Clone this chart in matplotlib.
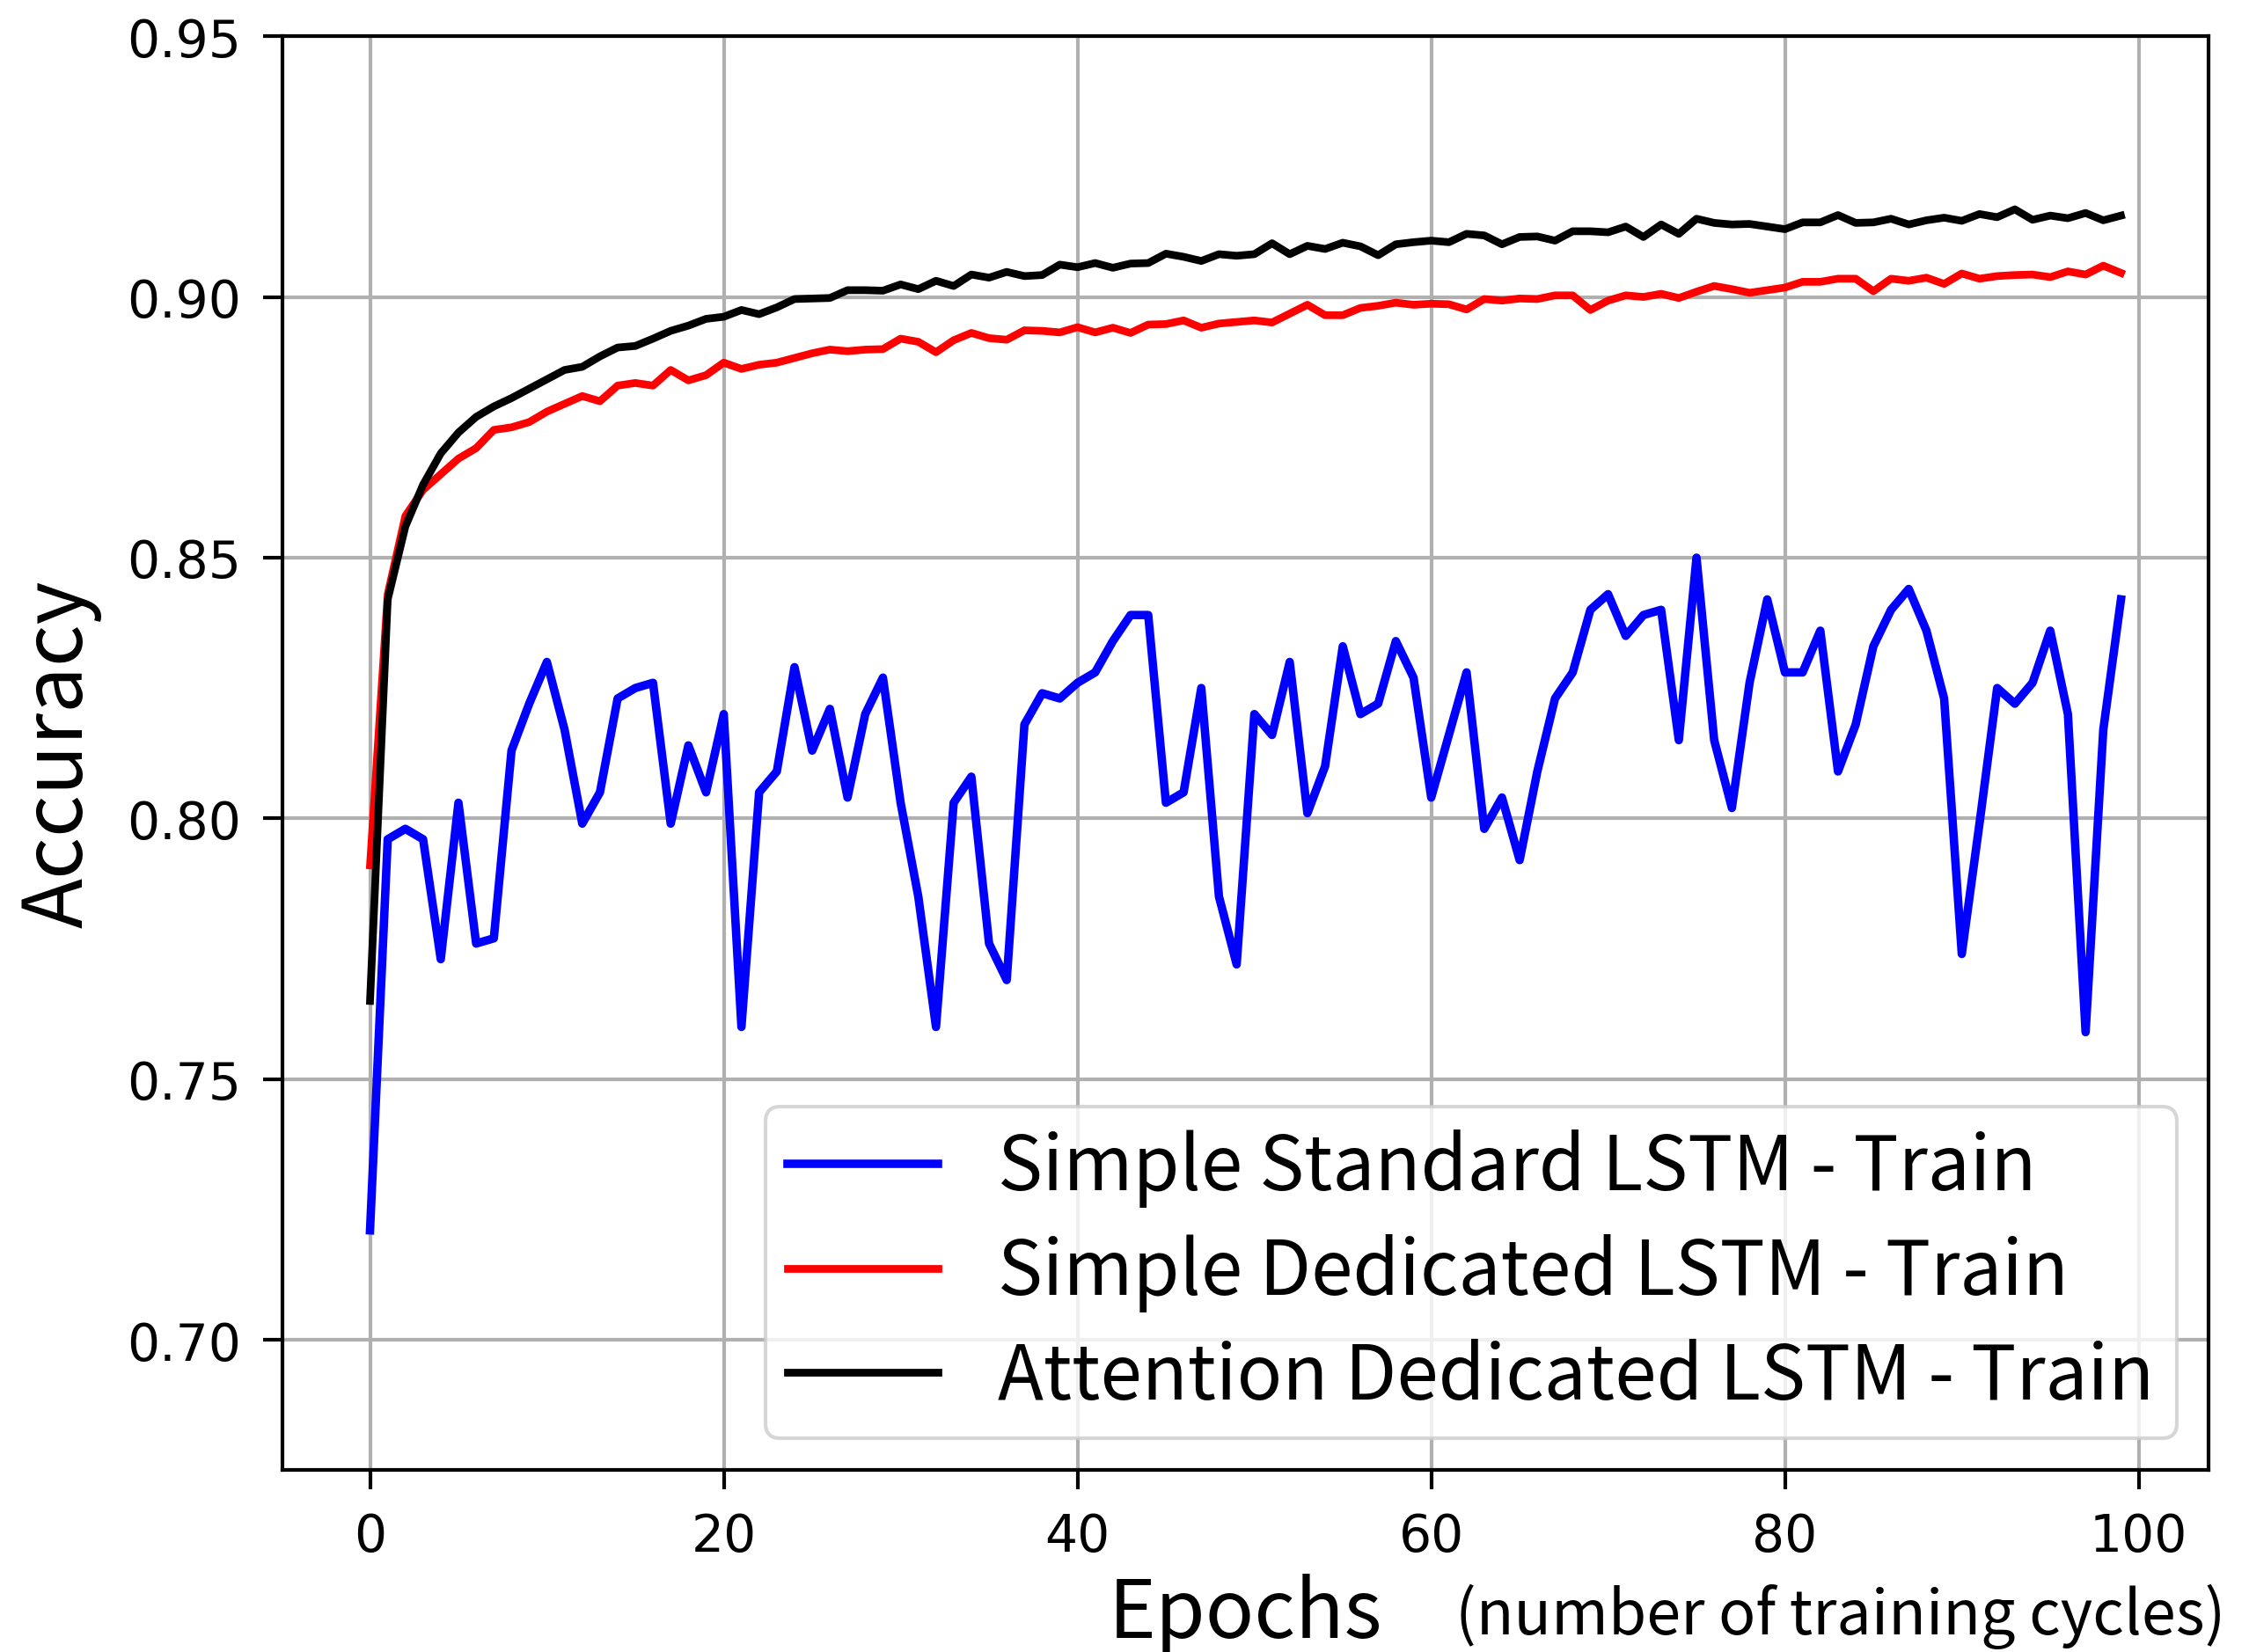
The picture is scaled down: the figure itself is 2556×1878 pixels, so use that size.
import numpy as np
import matplotlib.pyplot as plt

# accuracy per epoch
epochs = np.arange(100)

standard_lstm = [
    0.721, 0.796, 0.798, 0.796, 0.773, 0.803, 0.776, 0.777, 0.813, 0.822,
    0.830, 0.817, 0.799, 0.805, 0.823, 0.825, 0.826, 0.799, 0.814, 0.805,
    0.820, 0.760, 0.805, 0.809, 0.829, 0.813, 0.821, 0.804, 0.820, 0.827,
    0.803, 0.785, 0.760, 0.803, 0.808, 0.776, 0.769, 0.818, 0.824, 0.823,
    0.826, 0.828, 0.834, 0.839, 0.839, 0.803, 0.805, 0.825, 0.785, 0.772,
    0.820, 0.816, 0.830, 0.801, 0.810, 0.833, 0.820, 0.822, 0.834, 0.827,
    0.804, 0.816, 0.828, 0.798, 0.804, 0.792, 0.809, 0.823, 0.828, 0.840,
    0.843, 0.835, 0.839, 0.840, 0.815, 0.850, 0.815, 0.802, 0.826, 0.842,
    0.828, 0.828, 0.836, 0.809, 0.818, 0.833, 0.840, 0.844, 0.836, 0.823,
    0.774, 0.799, 0.825, 0.822, 0.826, 0.836, 0.820, 0.759, 0.817, 0.842,
]

dedicated_lstm = [
    0.791, 0.843, 0.858, 0.863, 0.866, 0.869, 0.871, 0.8745, 0.875, 0.876,
    0.878, 0.8795, 0.881, 0.880, 0.883, 0.8835, 0.883, 0.886, 0.884, 0.885,
    0.8874, 0.8862, 0.8870, 0.8874, 0.8883, 0.8892, 0.8899, 0.8896, 0.8899, 0.8900,
    0.8920, 0.8914, 0.8894, 0.8917, 0.8931, 0.8921, 0.8918, 0.8936, 0.8935, 0.8932,
    0.8942, 0.8932, 0.8941, 0.8931, 0.8947, 0.8948, 0.8955, 0.8941, 0.8949, 0.8952,
    0.8955, 0.8951, 0.8968, 0.8985, 0.8965, 0.8965, 0.8979, 0.8983, 0.8989, 0.8985,
    0.8987, 0.8986, 0.8976, 0.8996, 0.8993, 0.8997, 0.8996, 0.9003, 0.9003, 0.8975,
    0.8993, 0.9003, 0.9000, 0.9006, 0.8998, 0.9010, 0.9021, 0.9015, 0.9008, 0.9013,
    0.9018, 0.9029, 0.9029, 0.9035, 0.9035, 0.9011, 0.9035, 0.9031, 0.9037, 0.9025,
    0.9045, 0.9035, 0.9040, 0.9042, 0.9043, 0.9038, 0.9049, 0.9043, 0.9060, 0.9046,
]

attention_lstm = [
    0.765, 0.842, 0.856, 0.864, 0.870, 0.874, 0.877, 0.879, 0.8806, 0.8824,
    0.8842, 0.8860, 0.8866, 0.8886, 0.8903, 0.8906, 0.8920, 0.8935, 0.8945, 0.8958,
    0.8962, 0.8975, 0.8967, 0.8980, 0.8996, 0.8997, 0.8998, 0.9013, 0.9013, 0.9012,
    0.9024, 0.9015, 0.9031, 0.9021, 0.9043, 0.9037, 0.9048, 0.9040, 0.9042, 0.9062,
    0.9057, 0.9065, 0.9056, 0.9064, 0.9065, 0.9083, 0.9077, 0.9069, 0.9082, 0.9079,
    0.9082, 0.9103, 0.9082, 0.9098, 0.9092, 0.9104, 0.9097, 0.9080, 0.9101, 0.9105,
    0.9108, 0.9105, 0.9121, 0.9118, 0.9101, 0.9115, 0.9116, 0.9108, 0.9126, 0.9126,
    0.9124, 0.9135, 0.9115, 0.9139, 0.9121, 0.9150, 0.9142, 0.9139, 0.9140, 0.9135,
    0.9130, 0.9143, 0.9143, 0.9157, 0.9142, 0.9143, 0.9150, 0.9139, 0.9147, 0.9152,
    0.9146, 0.9159, 0.9153, 0.9168, 0.9148, 0.9156, 0.9151, 0.9161, 0.9147, 0.9156,
]

labels = ['Simple Standard LSTM - Train',
          'Simple Dedicated LSTM - Train',
          'Attention Dedicated LSTM - Train']

label_font = ['Noto Sans CJK JP', 'DejaVu Sans']

fig = plt.figure(figsize=(8.52, 6.263), dpi=300)
ax = fig.add_axes([0.1256, 0.110, 0.8564, 0.8676])

ax.plot(epochs, standard_lstm, color='b', lw=2.3, label=labels[0])
ax.plot(epochs, dedicated_lstm, color='r', lw=2.1, label=labels[1])
ax.plot(epochs, attention_lstm, color='k', lw=2.1, label=labels[2])

ax.set_xlim(-4.95, 103.95)
ax.set_ylim(0.675, 0.95)
ax.set_yticks([0.70, 0.75, 0.80, 0.85, 0.90, 0.95])
ax.set_xticks([0, 20, 40, 60, 80, 100])
ax.yaxis.set_major_formatter(plt.FormatStrFormatter('%.2f'))
ax.tick_params(labelsize=14, length=5.3, width=1, pad=6)
for s in ax.spines.values():
    s.set_linewidth(1)
ax.grid(True, color='#b0b0b0', lw=1)

ax.set_ylabel('Accuracy', fontsize=22.5, family=label_font, labelpad=6.8)
ax.set_xlabel('Epochs', fontsize=22, family=label_font, labelpad=3)
# smaller note next to the x label
fig.text(0.647, 0.011, '(number of training cycles)', fontsize=16.8,
         family=label_font, ha='left', va='baseline')

ax.legend(loc='lower right', prop={'family': label_font, 'size': 20.5},
          labelspacing=0.35, borderpad=0.3, borderaxespad=0.42)

fig.savefig('out.png', dpi=300)
